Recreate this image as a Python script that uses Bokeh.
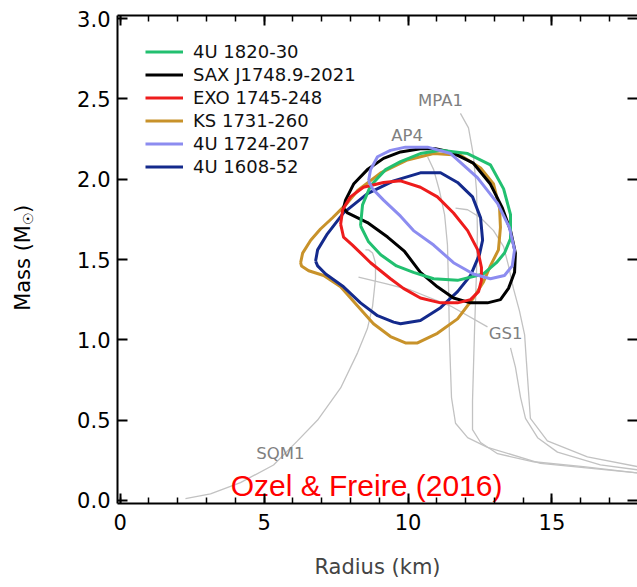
from bokeh.plotting import figure
from bokeh.layouts import row
from bokeh.models import (LinearAxis, SingleIntervalTicker, Range1d, Legend, LegendItem,
                          PrintfTickFormatter)
from bokeh.core.properties import value
from bokeh.embed import file_html
from bokeh.resources import INLINE
import math

# ---------------- data (radius km, mass Msun) ----------------
src_names = ["4U 1820-30", "SAX J1748.9-2021", "EXO 1745-248",
             "KS 1731-260", "4U 1724-207", "4U 1608-52"]
src_colors = ["#22c070", "#000000", "#ee1c1c", "#c8922a", "#8c8cf0", "#142a8c"]

r_1820 = [8.35, 8.42, 8.70, 9.22, 9.74, 10.43, 11.13, 12.07, 12.86, 13.32, 13.56, 13.56,
          13.35, 13.07, 12.62, 11.72, 10.89, 10.19, 9.60, 9.05, 8.63, 8.35]
m_1820 = [1.71, 1.84, 1.96, 2.06, 2.11, 2.16, 2.18, 2.16, 2.09, 1.94, 1.78, 1.63,
          1.54, 1.48, 1.41, 1.37, 1.38, 1.42, 1.46, 1.53, 1.61, 1.71]

r_1748 = [7.76, 7.83, 8.11, 8.59, 9.15, 9.74, 10.43, 10.95, 11.48, 12.27, 12.86, 13.28,
          13.56, 13.73, 13.70, 13.49, 13.21, 12.76, 12.17, 11.58, 11.02, 10.43, 9.88,
          9.29, 8.59, 7.90, 7.76]
m_1748 = [1.82, 1.87, 1.97, 2.06, 2.13, 2.17, 2.19, 2.19, 2.17, 2.10, 1.97, 1.82,
          1.68, 1.54, 1.42, 1.32, 1.25, 1.23, 1.23, 1.26, 1.33, 1.42, 1.55,
          1.64, 1.73, 1.79, 1.82]

r_1745 = [7.66, 7.73, 8.00, 8.45, 9.15, 9.74, 10.43, 11.02, 11.58, 12.07, 12.42, 12.55,
          12.55, 12.45, 12.17, 11.72, 11.13, 10.43, 9.84, 9.39, 8.70, 8.07, 7.76, 7.66]
m_1745 = [1.72, 1.81, 1.89, 1.95, 1.98, 1.99, 1.95, 1.89, 1.79, 1.68, 1.56, 1.45,
          1.37, 1.30, 1.25, 1.23, 1.23, 1.26, 1.32, 1.38, 1.48, 1.59, 1.64, 1.72]

r_1731 = [6.27, 6.34, 6.62, 6.96, 7.38, 7.83, 8.25, 9.05, 9.98, 10.89, 11.82, 12.52,
          12.97, 13.18, 13.21, 13.14, 12.86, 12.62, 12.27, 11.72, 11.02, 10.33, 9.91,
          9.39, 8.80, 8.25, 7.66, 7.07, 6.55, 6.30, 6.27]
m_1731 = [1.48, 1.54, 1.62, 1.69, 1.76, 1.84, 1.93, 2.04, 2.12, 2.16, 2.15, 2.07,
          1.97, 1.82, 1.70, 1.56, 1.46, 1.36, 1.26, 1.13, 1.04, 0.98, 0.98,
          1.02, 1.10, 1.21, 1.33, 1.40, 1.43, 1.46, 1.48]

r_1724 = [8.63, 8.70, 8.94, 9.39, 9.91, 10.68, 11.48, 12.41, 13.11, 13.52, 13.70, 13.62,
          13.35, 12.86, 12.27, 11.58, 10.89, 10.19, 9.74, 9.15, 8.77, 8.63]
m_1724 = [1.99, 2.06, 2.14, 2.18, 2.20, 2.20, 2.16, 2.01, 1.85, 1.70, 1.56, 1.46,
          1.40, 1.38, 1.41, 1.48, 1.59, 1.68, 1.77, 1.87, 1.94, 1.99]

r_1608 = [6.79, 6.86, 7.20, 7.76, 8.59, 9.50, 10.43, 11.13, 11.72, 12.24, 12.52, 12.59,
          12.48, 12.17, 11.72, 11.13, 10.43, 9.74, 9.50, 8.94, 8.35, 7.76, 7.14, 6.86, 6.79]
m_1608 = [1.49, 1.56, 1.66, 1.79, 1.91, 1.99, 2.04, 2.04, 1.98, 1.89, 1.76, 1.62,
          1.53, 1.40, 1.30, 1.20, 1.12, 1.10, 1.11, 1.15, 1.23, 1.33, 1.41, 1.46, 1.49]

# equations of state
r_sqm1 = [2.27, 3.14, 4.18, 5.33, 6.16, 6.86, 7.66, 8.25, 8.59, 8.77, 8.87, 8.87, 8.77, 8.63, 8.52]
m_sqm1 = [0.01, 0.04, 0.11, 0.22, 0.37, 0.50, 0.70, 0.92, 1.07, 1.21, 1.38, 1.48, 1.54, 1.56, 1.56]

r_gs1a = [8.28, 9.22, 10.09, 11.48, 12.76]
m_gs1a = [1.39, 1.35, 1.31, 1.21, 1.08]
r_gs1b = [13.56, 13.73, 13.91, 14.08, 14.50, 15.19, 16.68, 17.97]
m_gs1b = [0.95, 0.83, 0.64, 0.51, 0.39, 0.30, 0.22, 0.19]

r_eos5 = [11.65, 12.07, 12.52, 12.97, 13.32, 13.49, 13.66, 13.87, 14.05, 14.11, 14.18,
          14.25, 14.84, 16.23, 17.97]
m_eos5 = [1.82, 1.81, 1.76, 1.68, 1.58, 1.46, 1.32, 1.18, 1.03, 0.87, 0.69,
          0.51, 0.37, 0.27, 0.21]

r_mpa1 = [11.82, 12.10, 12.27, 12.38, 12.41, 12.38, 12.31, 12.24, 12.24, 12.52, 13.11,
          14.36, 16.09, 17.97]
m_mpa1 = [2.41, 2.32, 2.15, 1.93, 1.68, 1.43, 1.06, 0.62, 0.44, 0.36, 0.29,
          0.24, 0.21, 0.17]

r_ap4 = [10.68, 10.89, 11.09, 11.27, 11.37, 11.41, 11.44, 11.51, 11.65, 12.07, 12.76, 14.60, 17.97]
m_ap4 = [2.14, 2.06, 1.93, 1.78, 1.59, 1.31, 1.00, 0.64, 0.48, 0.39, 0.33, 0.23, 0.17]

eos_names = ["MPA1", "AP4", "GS1", "SQM1"]
eos_label_r = [11.13, 9.97, 13.39, 5.57]
eos_label_m = [2.49, 2.27, 1.04, 0.29]

x_ticks_major = 5
y_ticks_major = 0.5

# y-axis title pieces (the sun symbol is drawn as a subscript)
ytitle_parts = ["Mass (M", "\u2609", ")"]

FONT = "DejaVu Sans"
TITLE_W = 40
H = 587

mass_range = Range1d(-0.02, 3.02)

# ---------------- main figure ----------------
p = figure(width=637 - TITLE_W, height=H, x_range=Range1d(-0.09, 17.97),
           y_range=mass_range,
           output_backend="svg", toolbar_location=None,
           min_border_left=117 - TITLE_W, min_border_right=0, min_border_top=15,
           min_border_bottom=84)
p.outline_line_color = None
p.grid.visible = False

# ---------------- y-title strip (shares the mass range) ----------------
t = figure(width=TITLE_W, height=H, x_range=Range1d(0, TITLE_W), y_range=mass_range,
           output_backend="svg", toolbar_location=None,
           min_border_left=0, min_border_right=0, min_border_top=15, min_border_bottom=84,
           x_axis_location=None, y_axis_location=None)
t.outline_line_color = None
t.grid.visible = False
t.text(x=[22, 27, 22], y=[1.18, 1.715, 1.79], text=ytitle_parts,
       angle=math.pi / 2, text_font=value(FONT),
       text_font_size=["21px", "14px", "21px"], text_color="black",
       text_align="left", text_baseline="middle")

xt = SingleIntervalTicker(interval=x_ticks_major, num_minor_ticks=5)
yt = SingleIntervalTicker(interval=y_ticks_major, num_minor_ticks=5)


def style(ax, labels=True, line=True, minor=True):
    ax.axis_line_width = 2
    ax.axis_line_color = "black" if line else None
    ax.major_tick_in = 10
    ax.major_tick_out = 0
    ax.minor_tick_in = 6
    ax.minor_tick_out = 0
    ax.major_tick_line_width = 2
    ax.minor_tick_line_width = 1.5
    ax.major_tick_line_color = "black"
    ax.minor_tick_line_color = "black" if minor else None
    if labels:
        ax.major_label_text_font = FONT
        ax.major_label_text_font_size = "21px"
        ax.major_label_text_color = "black"
    else:
        ax.major_label_text_font_size = "0px"
        ax.major_label_text_color = None
        ax.major_label_text_alpha = 0
        ax.major_label_standoff = 0


xa = p.xaxis[0]
xa.ticker = xt
style(xa)
xa.major_label_standoff = 10
xa.axis_label = "Radius (km)"
xa.axis_label_text_font = FONT
xa.axis_label_text_font_size = "21px"
xa.axis_label_text_font_style = "normal"
xa.axis_label_standoff = 22

ya = p.yaxis[0]
ya.ticker = yt
style(ya, minor=False)
ya.formatter = PrintfTickFormatter(format="%.1f")
ya.major_label_standoff = 7

top = LinearAxis(ticker=xt)
style(top, labels=False)
p.add_layout(top, "above")

right = LinearAxis(ticker=yt)
style(right, labels=False, line=False, minor=False)
p.add_layout(right, "right")

# EOS curves
gray = "#c2c2c2"
for rr, mm in [(r_sqm1, m_sqm1), (r_gs1a, m_gs1a), (r_gs1b, m_gs1b), (r_eos5, m_eos5),
               (r_mpa1, m_mpa1), (r_ap4, m_ap4)]:
    p.line(rr, mm, line_color=gray, line_width=1.3)

p.text(x=eos_label_r, y=eos_label_m, text=eos_names, text_font=value(FONT),
       text_font_size="16.5px", text_color="#808080", text_align="center",
       text_baseline="middle")

# contours
contours = [(r_1820, m_1820), (r_1748, m_1748), (r_1745, m_1745),
            (r_1731, m_1731), (r_1724, m_1724), (r_1608, m_1608)]
draw_order = [3, 5, 1, 0, 2, 4]
rends = {}
for i in draw_order:
    rr, mm = contours[i]
    rends[i] = p.line(rr, mm, line_color=src_colors[i], line_width=3, line_join="round")

legend = Legend(items=[LegendItem(label=src_names[i], renderers=[rends[i]]) for i in range(6)],
                location=(28, 325), glyph_width=38, glyph_height=23, label_height=23,
                label_standoff=10, padding=0, margin=0, spacing=0,
                label_text_font=FONT, label_text_font_size="18px", label_text_color="#111111",
                border_line_color=None, background_fill_alpha=0)
p.add_layout(legend)

p.text(x=[8.56], y=[0.09], text=["Ozel & Freire (2016)"], text_font=value("Liberation Sans"),
       text_font_size="30px", text_color="#ff0000", text_align="center",
       text_baseline="alphabetic")

layout = row(t, p, spacing=0)
open("out.html", "w").write(file_html(layout, INLINE))
